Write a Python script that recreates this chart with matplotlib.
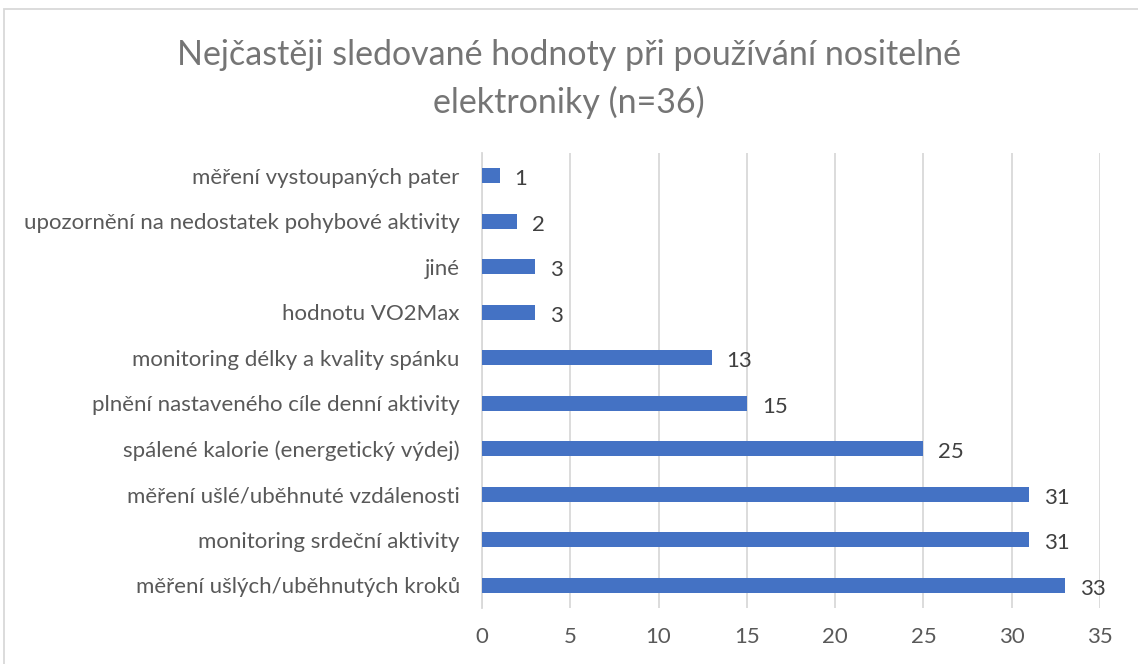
import matplotlib.pyplot as plt
from matplotlib.patches import Rectangle

# data (top to bottom as shown)
categories = [
    "měření vystoupaných pater",
    "upozornění na nedostatek pohybové aktivity",
    "jiné",
    "hodnotu VO2Max",
    "monitoring délky a kvality spánku",
    "plnění nastaveného cíle denní aktivity",
    "spálené kalorie (energetický výdej)",
    "měření ušlé/uběhnuté vzdálenosti",
    "monitoring srdeční aktivity",
    "měření ušlých/uběhnutých kroků",
]
counts = [1, 2, 3, 3, 13, 15, 25, 31, 31, 33]
x_ticks = [0, 5, 10, 15, 20, 25, 30, 35]

plt.rcParams['font.family'] = ['Lato', 'DejaVu Sans']
text_color = '#595959'

fig = plt.figure(figsize=(11.38, 6.64), dpi=100)
ax = fig.add_axes([482 / 1138, 1 - 608 / 664, (1100 - 482) / 1138, (608 - 153) / 664])

y = list(range(len(categories)))
ax.barh(y, counts, height=0.34, color='#4472C4', zorder=3)
ax.set_ylim(len(categories) - 0.5, -0.5)
ax.set_xlim(0, 35)
ax.set_xticks(x_ticks)
ax.set_yticks(y)
ax.set_yticklabels(categories)

for yi, v in zip(y, counts):
    ax.text(v + 0.85, yi + 0.08, str(v), va='center', ha='left', fontsize=16, color='#404040')

ax.grid(axis='x', color='#D9D9D9', linewidth=1.3, zorder=0)
for s in ['top', 'right', 'bottom']:
    ax.spines[s].set_visible(False)
ax.spines['left'].set_color('#D9D9D9')
ax.spines['left'].set_linewidth(1.3)
ax.tick_params(axis='both', length=0, labelsize=16, labelcolor=text_color)
ax.tick_params(axis='y', pad=16)
ax.tick_params(axis='x', pad=14)

fig.text(0.5, 1 - 55 / 664, "Nejčastěji sledované hodnoty při používání nositelné",
         ha='center', va='center', fontsize=24.5, color='#757575')
fig.text(0.5, 1 - 102 / 664, "elektroniky (n=36)",
         ha='center', va='center', fontsize=24.5, color='#757575')

# chart border
fig.patches.append(Rectangle((4 / 1138, -0.01), 1.1, 1 - 9 / 664 + 0.01, transform=fig.transFigure,
                             fill=False, edgecolor='#D9D9D9', linewidth=1.3))

fig.savefig('out.png', dpi=100, facecolor='white')
